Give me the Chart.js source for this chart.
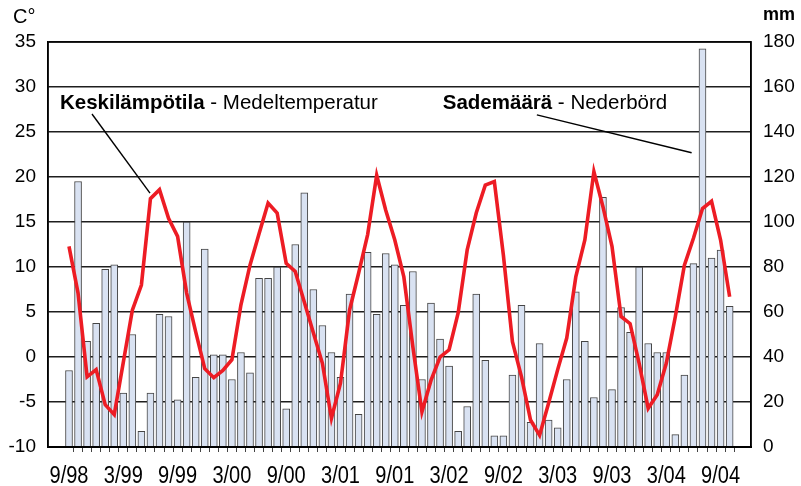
<!DOCTYPE html>
<html>
<head>
<meta charset="utf-8">
<script src="https://cdn.jsdelivr.net/npm/chart.js@4/dist/chart.umd.min.js"></script>
<style>
  html, body { margin: 0; padding: 0; background: #ffffff; }
  #wrap { width: 801px; height: 486px; position: relative; }
</style>
</head>
<body>
<div id="wrap"><canvas id="c" width="801" height="486"></canvas></div>
<script>
// Months 9/98 .. 10/04
const months = [
  '9/98','10/98','11/98','12/98','1/99','2/99','3/99','4/99','5/99','6/99','7/99','8/99',
  '9/99','10/99','11/99','12/99','1/00','2/00','3/00','4/00','5/00','6/00','7/00','8/00',
  '9/00','10/00','11/00','12/00','1/01','2/01','3/01','4/01','5/01','6/01','7/01','8/01',
  '9/01','10/01','11/01','12/01','1/02','2/02','3/02','4/02','5/02','6/02','7/02','8/02',
  '9/02','10/02','11/02','12/02','1/03','2/03','3/03','4/03','5/03','6/03','7/03','8/03',
  '9/03','10/03','11/03','12/03','1/04','2/04','3/04','4/04','5/04','6/04','7/04','8/04',
  '9/04','10/04'
];
// Shown x tick labels (every 6 months)
const tickLabels = ['9/98','3/99','9/99','3/00','9/00','3/01','9/01','3/02','9/02','3/03','9/03','3/04','9/04'];

// Precipitation, mm (right axis)
const precipitation = [
  34,118,47,55,79,81,24,50,7,24,59,58,
  21,100,31,88,41,41,30,42,33,75,75,80,
  17,90,113,70,54,42,31,68,14.5,86.5,59,86,
  81,63,78,30,64,48,36,7,18,68,38.5,5,
  5,32,63,11,46,12,8.5,30,69,47,22,111,
  25.5,62,51,80,46,42,42,5.5,32,81.5,177,84,
  87.5,62.5
];
// Mean temperature, °C (left axis)
const temperature = [
  12.3,7.1,-2.2,-1.4,-5.3,-6.4,-0.6,5.2,8.0,17.6,18.6,15.4,
  13.4,7.1,2.8,-1.3,-2.3,-1.5,-0.3,5.8,10.2,13.7,17.1,16.0,
  10.4,9.5,6.1,2.7,-0.7,-6.8,-2.9,5.2,9.3,13.6,20.2,16.3,
  13.0,8.9,1.1,-6.1,-2.6,0.0,0.8,4.9,11.9,16.0,19.1,19.5,
  11.3,1.7,-2.2,-7.0,-8.7,-5.1,-1.4,2.1,8.9,13.0,20.6,16.7,
  12.3,4.5,3.7,-0.7,-5.7,-4.2,-0.7,4.5,10.2,13.2,16.5,17.3,
  13.0,6.7
];

const FONT = '"Liberation Sans", Arial, sans-serif';

const decor = {
  id: 'decor',
  afterDraw(chart) {
    const ctx = chart.ctx;
    const a = chart.chartArea;
    const xs = chart.scales.x, yl = chart.scales.yT;
    ctx.save();
    // frame
    ctx.strokeStyle = '#000';
    ctx.lineWidth = 1.5;
    ctx.strokeRect(a.left, a.top, a.right - a.left, a.bottom - a.top);
    ctx.lineWidth = 2.2;
    ctx.beginPath(); ctx.moveTo(a.left, a.bottom); ctx.lineTo(a.right, a.bottom); ctx.stroke();

    // x tick labels (narrow, tall lettering as in the original)
    ctx.fillStyle = '#000';
    ctx.textAlign = 'center';
    ctx.textBaseline = 'alphabetic';
    ctx.font = '23px ' + FONT;
    tickLabels.forEach((t, i) => {
      const x = xs.getPixelForValue(i * 6);
      ctx.save();
      ctx.translate(x, a.bottom + 36);
      ctx.scale(0.87, 1);
      ctx.fillText(t, 0, 0);
      ctx.restore();
    });

    // axis units
    ctx.textAlign = 'left';
    ctx.font = '20px ' + FONT;
    ctx.fillText('C°', a.left - 35, a.top - 19);
    ctx.font = 'bold 18px ' + FONT;
    ctx.fillText('mm', a.right + 12, a.top - 22);

    // annotations
    function label(bold, rest, mx, t) {
      const x = xs.getPixelForValue(mx), y = yl.getPixelForValue(t);
      ctx.font = 'bold 20.5px ' + FONT;
      ctx.fillText(bold, x, y);
      const w = ctx.measureText(bold).width;
      ctx.font = '20.5px ' + FONT;
      ctx.fillText(rest, x + w, y);
    }
    label('Keskilämpötila', ' - Medeltemperatur', -1.0, 27.6);
    label('Sademäärä', ' - Nederbörd', 41.3, 27.6);

    ctx.strokeStyle = '#000';
    ctx.lineWidth = 1.4;
    function leader(m1, t1, m2, t2) {
      ctx.beginPath();
      ctx.moveTo(xs.getPixelForValue(m1), yl.getPixelForValue(t1));
      ctx.lineTo(xs.getPixelForValue(m2), yl.getPixelForValue(t2));
      ctx.stroke();
    }
    leader(2.54, 27.0, 8.95, 18.2);
    leader(51.7, 26.9, 68.8, 22.7);
    ctx.restore();
  }
};

new Chart(document.getElementById('c'), {
  data: {
    datasets: [
      {
        type: 'line',
        label: 'Keskilämpötila',
        data: temperature.map((v, i) => ({ x: i, y: v })),
        yAxisID: 'yT',
        borderColor: '#ed1c24',
        borderWidth: 3.6,
        pointRadius: 0,
        tension: 0,
        order: 0
      },
      {
        type: 'bar',
        label: 'Sademäärä',
        data: precipitation.map((v, i) => ({ x: i, y: v })),
        yAxisID: 'yP',
        backgroundColor: '#d9e2f2',
        borderColor: '#454545',
        borderWidth: 1,
        barThickness: 7,
        order: 1
      }
    ]
  },
  options: {
    responsive: false,
    animation: false,
    devicePixelRatio: 1,
    layout: { padding: { top: 42, left: 0, right: 0, bottom: 0 } },
    plugins: { legend: { display: false }, tooltip: { enabled: false } },
    scales: {
      x: {
        type: 'linear',
        position: 'bottom',
        offset: false,
        min: -2.32,
        max: 75.36,
        afterBuildTicks: (s) => { s.ticks = months.map((m, i) => ({ value: i })); },
        afterFit: (s) => { s.height = 39; },
        ticks: {
          autoSkip: false,
          maxRotation: 0,
          display: true,
          color: 'rgba(0,0,0,0)',
          font: { family: FONT, size: 10 },
          callback: () => ''
        },
        grid: {
          drawOnChartArea: false,
          drawTicks: true,
          tickLength: 5,
          lineWidth: 1,
          tickColor: (c) => (c.index === 0 ? 'rgba(0,0,0,0)' : '#444')
        },
        border: { display: true, color: '#000', width: 2 }
      },
      yT: {
        type: 'linear',
        position: 'left',
        min: -10,
        max: 35,
        afterFit: (s) => { s.width = 48; },
        ticks: { stepSize: 5, padding: 12, color: '#000', font: { family: FONT, size: 19 } },
        grid: { drawTicks: false, color: '#1e1e1e', lineWidth: 1.5 },
        border: { display: true, color: '#000', width: 1.5 }
      },
      yP: {
        type: 'linear',
        position: 'right',
        min: 0,
        max: 180,
        afterFit: (s) => { s.width = 50; },
        ticks: { stepSize: 20, padding: 12, color: '#000', font: { family: FONT, size: 19 } },
        grid: { drawOnChartArea: false, drawTicks: false },
        border: { display: true, color: '#000', width: 1.5 }
      }
    }
  },
  plugins: [decor]
});
</script>
</body>
</html>
